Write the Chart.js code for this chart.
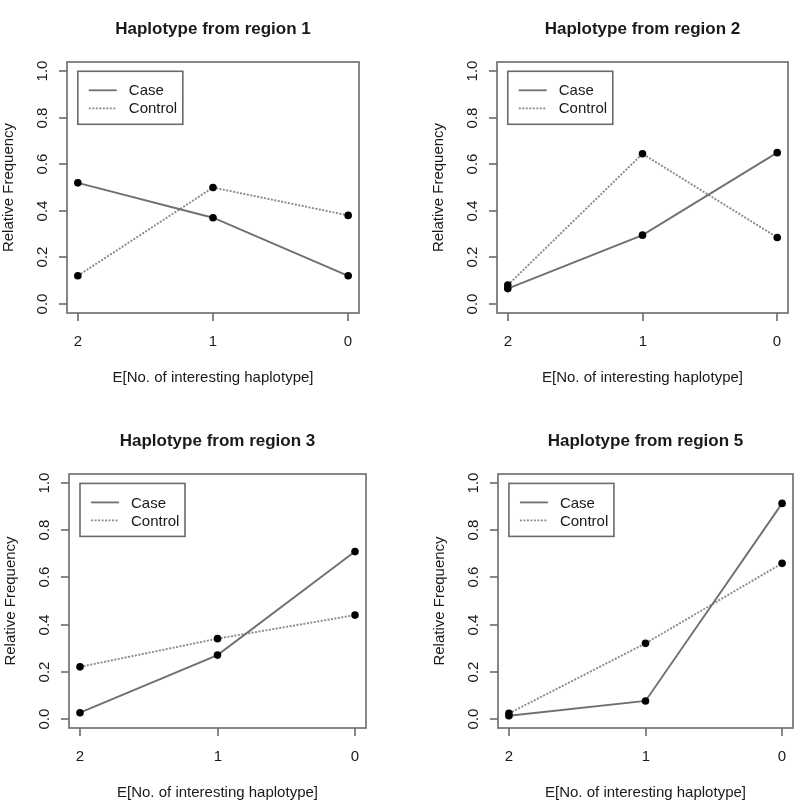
<!DOCTYPE html>
<html>
<head>
<meta charset="utf-8">
<script src="https://cdn.jsdelivr.net/npm/chart.js@4/dist/chart.umd.min.js"></script>
<style>
  html, body { margin: 0; padding: 0; background: #fff; }
  #wrap { position: relative; width: 800px; height: 804px; }
  canvas { position: absolute; }
</style>
</head>
<body>
<div id="wrap">
  <canvas id="c1" width="400" height="402" style="left:0;top:0"></canvas>
  <canvas id="c2" width="400" height="402" style="left:400px;top:0"></canvas>
  <canvas id="c3" width="400" height="402" style="left:0;top:402px"></canvas>
  <canvas id="c4" width="400" height="402" style="left:400px;top:402px"></canvas>
</div>
<script>
// values
var xValues = [2, 1, 0];
var xTicks = [2, 1, 0];
var yTicks = [0, 0.2, 0.4, 0.6, 0.8, 1.0];
var seriesNames = ['Case', 'Control'];
var titles = ['Haplotype from region 1', 'Haplotype from region 2',
              'Haplotype from region 3', 'Haplotype from region 5'];

var region1Case = [0.52, 0.37, 0.12];
var region1Control = [0.12, 0.50, 0.38];
var region2Case = [0.065, 0.295, 0.65];
var region2Control = [0.08, 0.645, 0.285];
var region3Case = [0.025, 0.27, 0.71];
var region3Control = [0.22, 0.34, 0.44];
var region5Case = [0.012, 0.075, 0.915];
var region5Control = [0.022, 0.32, 0.66];

var FONT = '"Liberation Sans", Arial, sans-serif';
var TEXT = '#1a1a1a';
var FRAME = '#6a6a6a';
var LINE = '#707070';
var DOTTED = '#8a8a8a';

/**
 * R-style decorations: box, outside ticks, rotated y labels, title, legend
 */
var rStylePlugin = {
  id: 'rStyle',
  afterDraw: function (chart) {
    var ctx = chart.ctx;
    var area = chart.chartArea;
    var xs = chart.scales.x;
    var ys = chart.scales.y;
    var cx = (area.left + area.right) / 2;
    var cy = (area.top + area.bottom) / 2;
    ctx.save();

    // frame
    ctx.strokeStyle = FRAME;
    ctx.lineWidth = 1.6;
    ctx.strokeRect(area.left, area.top, area.right - area.left, area.bottom - area.top);

    // x ticks
    ctx.fillStyle = TEXT;
    ctx.font = '15px ' + FONT;
    ctx.textAlign = 'center';
    ctx.textBaseline = 'middle';
    xTicks.forEach(function (t) {
      var px = Math.round(xs.getPixelForValue(t));
      ctx.beginPath();
      ctx.moveTo(px, area.bottom);
      ctx.lineTo(px, area.bottom + 8);
      ctx.stroke();
      ctx.fillText(String(t), px, area.bottom + 29);
    });

    // y ticks, labels parallel to the axis
    yTicks.forEach(function (t) {
      var py = Math.round(ys.getPixelForValue(t));
      ctx.beginPath();
      ctx.moveTo(area.left, py);
      ctx.lineTo(area.left - 8, py);
      ctx.stroke();
      ctx.save();
      ctx.translate(area.left - 24, py);
      ctx.rotate(-Math.PI / 2);
      ctx.fillText(t.toFixed(1), 0, 0);
      ctx.restore();
    });

    // axis titles
    ctx.fillText('E[No. of interesting haplotype]', cx, area.bottom + 65);
    ctx.save();
    ctx.translate(area.left - 58, cy);
    ctx.rotate(-Math.PI / 2);
    ctx.fillText('Relative Frequency', 0, 0);
    ctx.restore();

    // main title
    ctx.font = 'bold 17px ' + FONT;
    ctx.fillText(chart.options.plugins.rStyle.title, cx, area.top - 33);

    // legend box anchored at x=2, y=1.0
    var lx = xs.getPixelForValue(2);
    var ly = ys.getPixelForValue(1.0);
    ctx.strokeStyle = FRAME;
    ctx.lineWidth = 1.6;
    ctx.strokeRect(lx, ly, 105, 53);
    ctx.font = '15px ' + FONT;
    ctx.textAlign = 'left';
    seriesNames.forEach(function (name, i) {
      var rowY = ly + 19 + i * 18;
      ctx.strokeStyle = i === 1 ? DOTTED : LINE;
      ctx.lineWidth = 1.8;
      ctx.setLineDash(i === 1 ? [2, 1.5] : []);
      ctx.beginPath();
      ctx.moveTo(lx + 11, rowY);
      ctx.lineTo(lx + 39, rowY);
      ctx.stroke();
      ctx.setLineDash([]);
      ctx.fillText(name, lx + 51, rowY + 1);
    });

    ctx.restore();
  }
};

function toPoints(values) {
  return values.map(function (v, i) {
    return { x: xValues[i], y: v };
  });
}

function makePanel(canvasId, title, caseValues, controlValues, padding) {
  var ctx = document.getElementById(canvasId).getContext('2d');
  return new Chart(ctx, {
    type: 'line',
    data: {
      datasets: [
        {
          label: seriesNames[0],
          data: toPoints(caseValues),
          borderColor: LINE,
          borderWidth: 1.9,
          pointRadius: 3.8,
          pointBackgroundColor: '#000',
          pointBorderColor: '#000',
          pointBorderWidth: 0,
          tension: 0,
        },
        {
          label: seriesNames[1],
          data: toPoints(controlValues),
          borderColor: DOTTED,
          borderWidth: 1.9,
          borderDash: [2, 1.5],
          pointRadius: 3.8,
          pointBackgroundColor: '#000',
          pointBorderColor: '#000',
          pointBorderWidth: 0,
          tension: 0,
        },
      ],
    },
    options: {
      responsive: false,
      animation: false,
      layout: { padding: padding },
      scales: {
        x: { type: 'linear', reverse: true, min: -0.08, max: 2.08, display: false },
        y: { type: 'linear', min: -0.04, max: 1.04, display: false },
      },
      plugins: {
        legend: { display: false },
        tooltip: { enabled: false },
        rStyle: { title: title },
      },
    },
    plugins: [rStylePlugin],
  });
}

makePanel('c1', titles[0], region1Case, region1Control, { left: 67, top: 62, right: 41, bottom: 89 });
makePanel('c2', titles[1], region2Case, region2Control, { left: 97, top: 62, right: 12, bottom: 89 });
makePanel('c3', titles[2], region3Case, region3Control, { left: 69, top: 72, right: 34, bottom: 76 });
makePanel('c4', titles[3], region5Case, region5Control, { left: 98, top: 72, right: 7, bottom: 76 });
</script>
</body>
</html>
